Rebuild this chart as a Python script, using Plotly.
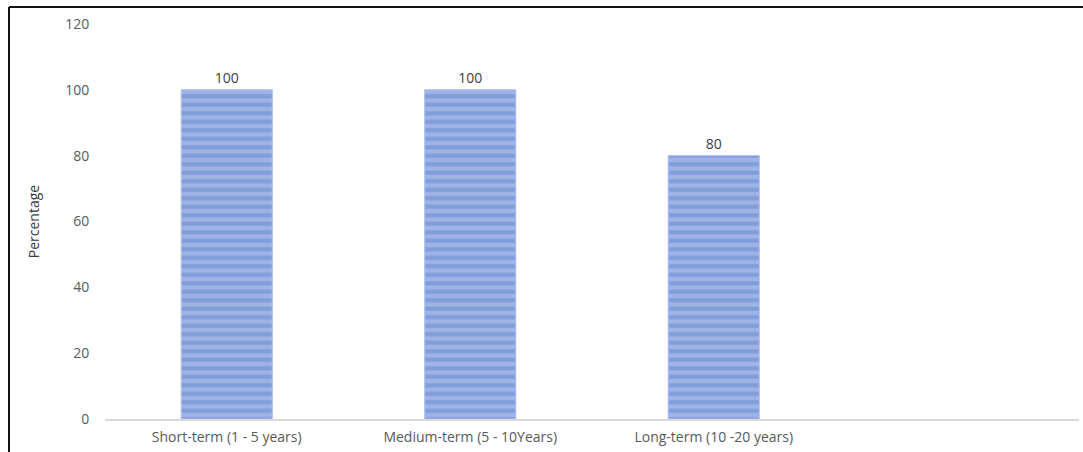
import plotly.graph_objects as go

categories = ["Short-term (1 - 5 years)", "Medium-term (5 - 10Years)", "Long-term (10 -20 years)", " "]
values = [100, 100, 80, None]
labels = ["100", "100", "80", ""]

W, H = 1083, 452
L, R, T, B = 105, 4, 24, 33
pw, ph = W - L - R, H - T - B

def px_x(p):
    return (p - L) / pw

def px_y(p):
    return (H - B - p) / ph

FONT = "Open Sans, Lato, sans-serif"

fig = go.Figure()
fig.add_trace(go.Bar(
    x=categories, y=values, text=labels, textposition="outside",
    textfont=dict(size=14, color="#404040", family=FONT),
    width=0.374,
    marker=dict(color="#9fb4e6",
                line=dict(color="#aabde9", width=1),
                pattern=dict(shape="-", fgcolor="#6686d2", bgcolor="#9fb4e6", size=8.5, solidity=0.5)),
    cliponaxis=False,
))

fig.update_layout(
    width=W, height=H,
    margin=dict(l=L, r=R, t=T, b=B),
    plot_bgcolor="white", paper_bgcolor="white",
    showlegend=False,
    font=dict(family=FONT, size=14, color="#595959"),
    xaxis=dict(type="category", range=[-0.5, 3.5], showgrid=False,
               showline=True, linecolor="#d9d9d9", linewidth=1.5,
               ticks="outside", ticklen=4, tickcolor="rgba(0,0,0,0)",
               tickfont=dict(size=14, color="#595959")),
    yaxis=dict(range=[0, 120], dtick=20, showgrid=False, zeroline=False,
               showline=False, ticks="outside", ticklen=12, tickcolor="rgba(0,0,0,0)",
               tickfont=dict(size=14, color="#595959"),
               title=dict(text="Percentage", font=dict(size=14, color="#3a3a3a"), standoff=22)),
    shapes=[
        dict(type="line", xref="paper", yref="paper",
             x0=px_x(9), x1=px_x(9), y0=px_y(7), y1=px_y(H), line=dict(color="#111111", width=2)),
        dict(type="line", xref="paper", yref="paper",
             x0=px_x(9), x1=px_x(W), y0=px_y(7), y1=px_y(7), line=dict(color="#111111", width=2)),
    ],
)

fig.write_html("out.html", config={"displayModeBar": False},
               post_script="document.body.style.margin='0';document.body.style.overflow='hidden';")
